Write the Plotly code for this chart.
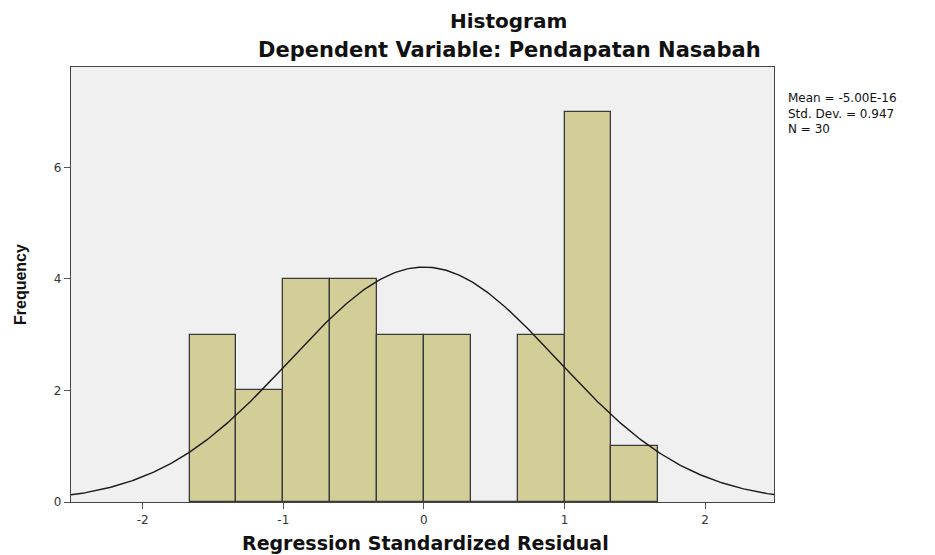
import numpy as np
import plotly.graph_objects as go

# Data
bin_left_edges = [-5/3, -4/3, -1.0, -2/3, -1/3, 0.0, 1/3, 2/3, 1.0, 4/3]
counts = [3, 2, 4, 4, 3, 3, 0, 3, 7, 1]
bin_width = 1/3
mean = -5.00e-16
std_dev = 0.947
n_obs = 30
x_ticks = [-2, -1, 0, 1, 2]
y_ticks = [0, 2, 4, 6]
stats_lines = ["Mean = -5.00E-16", f"Std. Dev. = {std_dev}", f"N = {n_obs}"]

centers = [e + bin_width / 2 for e in bin_left_edges]

# Fitted normal curve (as SPSS draws it) from mean, sd, N
xc = np.linspace(-2.6, 2.6, 400)
yc = n_obs * bin_width * np.exp(-0.5 * ((xc - mean) / std_dev) ** 2) / (std_dev * np.sqrt(2 * np.pi))

fig = go.Figure()
fig.add_trace(go.Bar(
    x=centers, y=counts, width=[bin_width] * len(counts),
    marker=dict(color="#D3CE98", line=dict(color="#3a3a3a", width=1.3)),
    hoverinfo="skip", showlegend=False,
))
fig.add_trace(go.Scatter(
    x=xc, y=yc, mode="lines", line=dict(color="#1a1a1a", width=1.4),
    hoverinfo="skip", showlegend=False,
))

font_family = "DejaVu Sans, Liberation Sans, sans-serif"

# page has 8px body margin: plot area targeted at x 71..774, y 67..502 in the page
W, H = 927, 547
ml, mt = 63, 59
plot_l, plot_r, plot_t, plot_b = 71, 774, 67, 502
mr = W - (plot_r - 8)
mb = H - (plot_b - 8)

fig.update_layout(
    width=W, height=H,
    margin=dict(l=ml, r=mr, t=mt, b=mb, autoexpand=False),
    paper_bgcolor="white", plot_bgcolor="#F0F0F0",
    bargap=0,
    font=dict(family=font_family, color="#222222"),
    xaxis=dict(
        range=[-2.51, 2.49], tickvals=x_ticks, ticktext=[str(v) for v in x_ticks],
        showgrid=False, zeroline=False, showline=True, linecolor="#444444", linewidth=1.2,
        mirror=True, ticks="outside", ticklen=6, tickcolor="#555555", tickwidth=1.2,
        tickfont=dict(size=12, color="#333333"),
    ),
    yaxis=dict(
        range=[0, 7.8], tickvals=y_ticks, ticktext=[str(v) for v in y_ticks],
        showgrid=False, zeroline=False, showline=True, linecolor="#444444", linewidth=1.2,
        mirror=True, ticks="outside", ticklen=6, tickcolor="#555555", tickwidth=1.2,
        tickfont=dict(size=12, color="#333333"),
    ),
)

pw, ph = plot_r - plot_l, plot_b - plot_t


def px(x):
    return (x - plot_l) / pw


def py(y):
    return (plot_b - y) / ph


annotations = [
    dict(text="<b>Histogram</b>", x=px(508), y=py(21), size=20),
    dict(text="<b>Dependent Variable: Pendapatan Nasabah</b>", x=px(509), y=py(50), size=21),
    dict(text="<b>Regression Standardized Residual</b>", x=px(425), y=py(543), size=19),
]
ann = []
for a in annotations:
    ann.append(dict(text=a["text"], x=a["x"], y=a["y"], xref="paper", yref="paper",
                    showarrow=False, xanchor="center", yanchor="middle",
                    font=dict(size=a["size"], color="#111111", family=font_family)))

ann.append(dict(
    text="<b>Frequency</b>", x=px(20), y=py(285),
    xref="paper", yref="paper", showarrow=False, xanchor="center", yanchor="middle",
    textangle=-90, font=dict(size=16, color="#111111", family="Liberation Sans, Arial, sans-serif"),
))
ann.append(dict(
    text="<br>".join(stats_lines), x=px(786), y=py(89),
    xref="paper", yref="paper", showarrow=False, xanchor="left", yanchor="top", align="left",
    font=dict(size=12, color="#111111", family=font_family),
))
fig.update_layout(annotations=ann)

fig.write_html("out.html")
